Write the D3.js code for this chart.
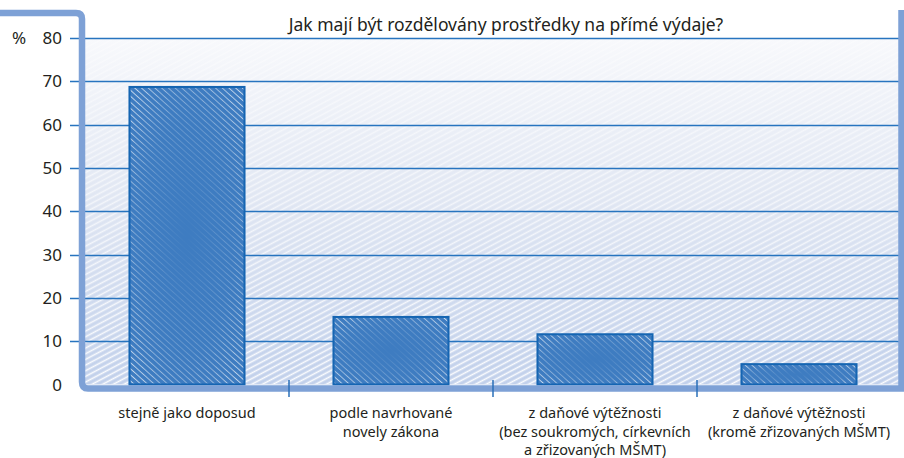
<!DOCTYPE html>
<html>
<head>
<meta charset="utf-8">
<script src="https://cdn.jsdelivr.net/npm/d3@7/dist/d3.min.js"></script>
<style>
  html, body { margin: 0; padding: 0; background: #ffffff; }
  svg { display: block; }
  text { font-family: "Noto Sans", "Open Sans", sans-serif; fill: #231f20; }
</style>
</head>
<body>
<svg id="chart" width="904" height="458"></svg>
<script>
// Survey: how should funds for direct expenses be allocated (%)
const title = "Jak mají být rozdělovány prostředky na přímé výdaje?";
const categories = [
  ["stejně jako doposud"],
  ["podle navrhované", "novely zákona"],
  ["z daňové výtěžnosti", "(bez soukromých, církevních", "a zřizovaných MŠMT)"],
  ["z daňové výtěžnosti", "(kromě zřizovaných MŠMT)"]
];
const values = [68.7, 15.6, 11.6, 4.7];
const yTicks = [0, 10, 20, 30, 40, 50, 60, 70, 80];
const yUnit = "%";

const svg = d3.select("#chart");
const plot = { left: 85, right: 899, top: 38, bottom: 384.5 };

const x = d3.scaleBand()
  .domain(d3.range(categories.length))
  .range([plot.left, plot.right + 2])
  .paddingInner(0.436)
  .paddingOuter(0.218);

const y = d3.scaleLinear().domain([0, 80]).range([plot.bottom, plot.top]);

const defs = svg.append("defs");

// soft background gradient of the plotting area
const bg = defs.append("linearGradient").attr("id", "bgGrad")
  .attr("x1", 0).attr("y1", 0).attr("x2", 0).attr("y2", 1);
bg.append("stop").attr("offset", "0%").attr("stop-color", "#f8f9fc");
bg.append("stop").attr("offset", "45%").attr("stop-color", "#e1e7f3");
bg.append("stop").attr("offset", "100%").attr("stop-color", "#c1d0eb");

// hand-drawn looking white hatching of the background (rising strokes)
const bgHatch = defs.append("pattern").attr("id", "bgHatch")
  .attr("patternUnits", "userSpaceOnUse")
  .attr("width", 5).attr("height", 5)
  .attr("patternTransform", "rotate(-28)");
bgHatch.append("line").attr("x1", 0).attr("y1", 2.5).attr("x2", 5).attr("y2", 2.5)
  .attr("stroke", "#ffffff").attr("stroke-width", 1.6);

// hatching of the bars (falling strokes)
const barHatch = defs.append("pattern").attr("id", "barHatch")
  .attr("patternUnits", "userSpaceOnUse")
  .attr("width", 4.5).attr("height", 4.5)
  .attr("patternTransform", "rotate(42)");
barHatch.append("line").attr("x1", 0).attr("y1", 2.2).attr("x2", 4.5).attr("y2", 2.2)
  .attr("stroke", "#ffffff").attr("stroke-width", 0.9);

// fade mask so the bar hatching is patchy, strongest near the edges
const fade = defs.append("radialGradient").attr("id", "fadeGrad")
  .attr("cx", "50%").attr("cy", "50%").attr("r", "72%");
fade.append("stop").attr("offset", "0%").attr("stop-color", "#fff").attr("stop-opacity", 0.0);
fade.append("stop").attr("offset", "55%").attr("stop-color", "#fff").attr("stop-opacity", 0.25);
fade.append("stop").attr("offset", "100%").attr("stop-color", "#fff").attr("stop-opacity", 0.85);
const barMask = defs.append("mask").attr("id", "barMask")
  .attr("maskContentUnits", "objectBoundingBox");
barMask.append("rect").attr("width", 1).attr("height", 1).attr("fill", "url(#fadeGrad)");

const bgFade = defs.append("linearGradient").attr("id", "bgFadeGrad")
  .attr("x1", 0).attr("y1", 0).attr("x2", 0).attr("y2", 1);
bgFade.append("stop").attr("offset", "0%").attr("stop-color", "#fff").attr("stop-opacity", 0.35);
bgFade.append("stop").attr("offset", "100%").attr("stop-color", "#fff").attr("stop-opacity", 0.95);
const bgMask = defs.append("mask").attr("id", "bgMask")
  .attr("maskContentUnits", "objectBoundingBox");
bgMask.append("rect").attr("width", 1).attr("height", 1).attr("fill", "url(#bgFadeGrad)");

// plotting area background
svg.append("rect")
  .attr("x", plot.left).attr("y", plot.top)
  .attr("width", plot.right - plot.left).attr("height", plot.bottom - plot.top)
  .attr("fill", "url(#bgGrad)");
svg.append("rect")
  .attr("x", plot.left).attr("y", plot.top)
  .attr("width", plot.right - plot.left).attr("height", plot.bottom - plot.top)
  .attr("fill", "url(#bgHatch)")
  .attr("mask", "url(#bgMask)");

// horizontal gridlines
svg.append("g").selectAll("line")
  .data(yTicks.filter(d => d > 0))
  .join("line")
  .attr("x1", 70).attr("x2", plot.right)
  .attr("y1", d => Math.round(y(d)) + 0.5).attr("y2", d => Math.round(y(d)) + 0.5)
  .attr("stroke", "#2774bf").attr("stroke-width", 1.3);

// y tick labels
svg.append("g").selectAll("text")
  .data(yTicks)
  .join("text")
  .attr("x", 62).attr("y", d => y(d))
  .attr("dy", "0.36em")
  .attr("text-anchor", "end")
  .attr("font-size", 17)
  .text(d => d);

svg.append("text")
  .attr("x", 12).attr("y", y(80)).attr("dy", "0.36em")
  .attr("font-size", 17)
  .text(yUnit);

// bars
const bars = svg.append("g");
bars.selectAll("rect.bar")
  .data(values)
  .join("rect")
  .attr("class", "bar")
  .attr("x", (d, i) => x(i))
  .attr("y", d => y(d))
  .attr("width", x.bandwidth())
  .attr("height", d => y(0) - y(d))
  .attr("fill", "#3e7cc1")
  .attr("stroke", "#1565b2")
  .attr("stroke-width", 2);
bars.selectAll("rect.hatch")
  .data(values)
  .join("rect")
  .attr("class", "hatch")
  .attr("x", (d, i) => x(i) + 1)
  .attr("y", d => y(d) + 1)
  .attr("width", x.bandwidth() - 2)
  .attr("height", d => y(0) - y(d) - 2)
  .attr("fill", "url(#barHatch)")
  .attr("mask", "url(#barMask)");

// frame around the plot
svg.append("path")
  .attr("d", `M0,13 H76 Q82,13 82,19 V382 Q82,388.5 88,388.5 H901.5 V10`)
  .attr("fill", "none")
  .attr("stroke", "#7ea1d6")
  .attr("stroke-width", 6.5);

// category separators
const step = x.step();
svg.append("g").selectAll("line")
  .data(d3.range(1, categories.length))
  .join("line")
  .attr("x1", i => plot.left + i * step).attr("x2", i => plot.left + i * step)
  .attr("y1", 380).attr("y2", 397)
  .attr("stroke", "#2a6fb8").attr("stroke-width", 1.5);

// category labels
const catG = svg.append("g").selectAll("text")
  .data(categories)
  .join("text")
  .attr("x", (d, i) => x(i) + x.bandwidth() / 2)
  .attr("y", 418)
  .attr("text-anchor", "middle")
  .attr("font-size", 14.5);
catG.selectAll("tspan")
  .data(d => d)
  .join("tspan")
  .attr("x", function () { return this.parentNode.getAttribute("x"); })
  .attr("dy", (d, i) => i === 0 ? 0 : 18.5)
  .text(d => d);

// title
svg.append("text")
  .attr("x", 506).attr("y", 31)
  .attr("text-anchor", "middle")
  .attr("font-size", 17.5)
  .text(title);
</script>
</body>
</html>
